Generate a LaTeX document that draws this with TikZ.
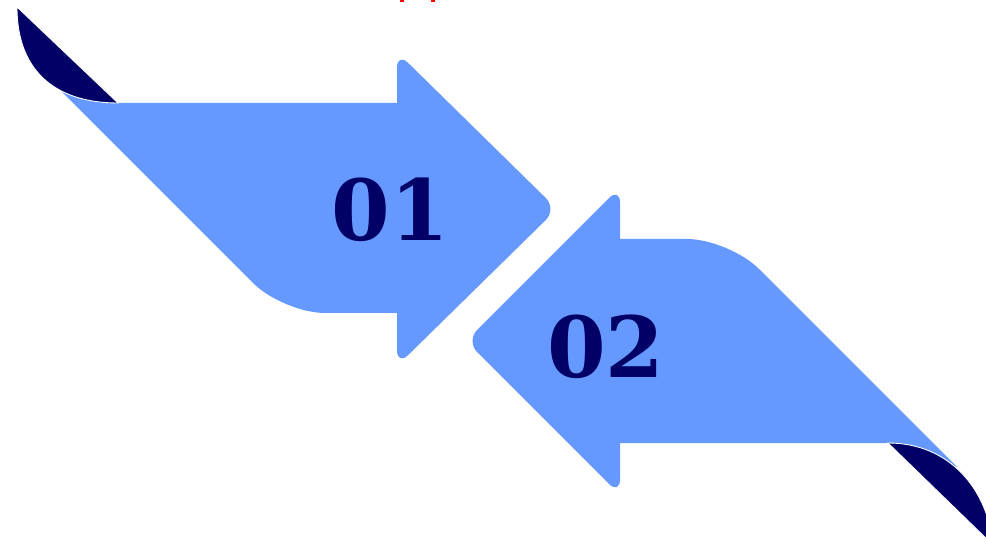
\documentclass[tikz,border=0pt]{standalone}
\usepackage{fontspec}
\usepackage{tikz}
\usetikzlibrary{positioning}
\newfontfamily\numfont{DejaVu Serif}
\definecolor{arrowblue}{HTML}{6699FF}
\definecolor{curlnavy}{HTML}{000066}

\begin{document}
\begin{tikzpicture}[x=0.02cm,y=-0.02cm,
    arrowbody/.style={fill=arrowblue},
    arrowhead/.style={fill=arrowblue, rounded corners=9pt},
    curl/.style={fill=curlnavy, draw=white, line width=0.5pt},
    number/.style={text=curlnavy, inner sep=0pt, font=\numfont\bfseries\fontsize{48}{58}\selectfont}]
  \useasboundingbox (0,0) rectangle (986,543);
  \clip (0,0) rectangle (986,543);
  \fill[red] (400,0) rectangle (404,2);
  \fill[red] (431,0) rectangle (435,2);

  \fill[arrowhead] (397,52) -- (557,209) -- (397,366) -- cycle;
  \fill[arrowbody] (50,80) -- (118,103) -- (400,103) -- (400,313) -- (325,313)
    .. controls (302,313) and (269.5,299.5) .. (253,283) -- cycle;
  \filldraw[curl] (118,103) -- (17,7) .. controls (17,75) and (60,103) .. (118,103) -- cycle;

  \fill[arrowhead] (620,187) -- (466,341) -- (620,495) -- cycle;
  \fill[arrowbody] (617,239) -- (687,239) .. controls (710,239) and (742.5,252.5) .. (759,269)
    -- (957,467) -- (888,443) -- (617,443) -- cycle;
  \filldraw[curl] (888,443) -- (993,545) .. controls (988,490) and (950,443) .. (888,443) -- cycle;

  \node[number] (One) at (390,210) {01};
  \node[number, on grid, below right=2.74cm and 4.32cm of One] (Two) {02};
\end{tikzpicture}
\end{document}
